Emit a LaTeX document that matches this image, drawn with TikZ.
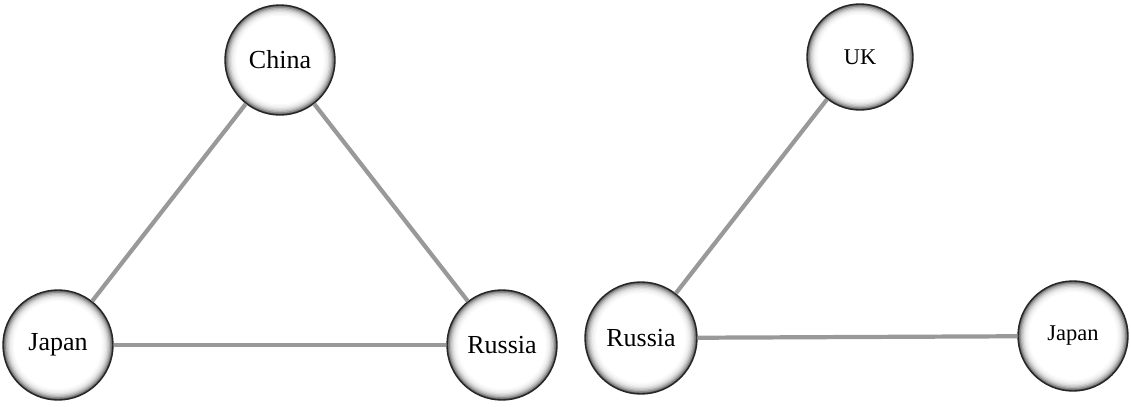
\documentclass[tikz,border=0pt]{standalone}
\usepackage{fontspec}
\setmainfont{Liberation Serif}
\usepackage{tikz}
\usetikzlibrary{positioning}
\tikzset{
  country/.style={draw=black!85, line width=1pt, circle, minimum size=2*#1, inner sep=0pt,
    path picture={
      \foreach \f/\c in {1.00/65,0.975/45,0.95/30,0.925/20,0.90/12,0.875/7,0.85/4,0.825/2,0.80/0}
        \fill[black!\c!white] (path picture bounding box.center) circle[radius=\f*#1];
    },
    font=\fontsize{18.5}{20}\selectfont},
  country/.default=1.375cm,
  countrysmall/.style={country=#1, font=\fontsize{16}{18}\selectfont},
  countrysmall/.default=1.375cm,
  link/.style={draw=gray!80, line width=3pt}
}
\begin{document}
\begin{tikzpicture}[x=1cm,y=1cm]
  \useasboundingbox (0,0) rectangle (28.275,10.15);

  % left triangle
  \node[country] (china) at (7.0,8.65) {China};
  \node[country] (japanl) at (1.45,1.525) {Japan};
  \node[country] (russial) at (12.55,1.525) {Russia};
  \draw[link] (china) -- (japanl);
  \draw[link] (china) -- (russial);
  \draw[link] (japanl) -- (russial);

  % right star
  \node[countrysmall=1.325cm] (uk) at (21.5,8.725) {UK};
  \node[country=1.4cm] (russiar) at (16.025,1.7) {Russia};
  \node[countrysmall] (japanr) at (26.825,1.75) {Japan};
  \draw[link] (russiar) -- (uk);
  \draw[link] (russiar) -- (japanr);
\end{tikzpicture}
\end{document}
